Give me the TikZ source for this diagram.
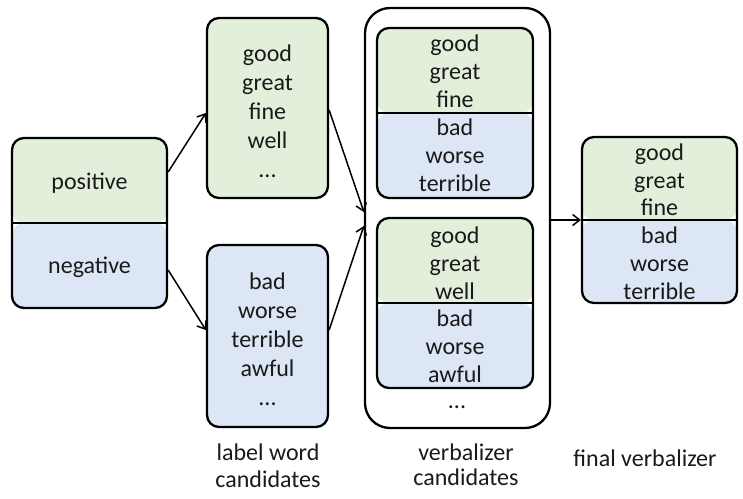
\documentclass[tikz,border=0pt]{standalone}
\usepackage{fontspec}
\setmainfont{Carlito}
\usetikzlibrary{arrows.meta}
\definecolor{gfill}{HTML}{E2EFDA}
\definecolor{bfill}{HTML}{DCE6F4}
\definecolor{ink}{HTML}{1A1A1A}
\tikzset{
  word/.style={text=ink, font=\fontsize{24}{29}\selectfont, align=center, inner sep=0pt},
  box/.style={draw=black, line width=2.3pt, rounded corners=12pt, inner sep=0pt},
  halves/.style={box,
    path picture={
      \fill[gfill] (path picture bounding box.north west) rectangle (path picture bounding box.east);
      \fill[bfill] (path picture bounding box.west) rectangle (path picture bounding box.south east);
      \draw[line width=2.3pt] (path picture bounding box.west) -- (path picture bounding box.east);
    }},
  arr/.style={line width=1.5pt, -{Straight Barb[length=7pt,width=11pt]}},
}
\begin{document}
\begin{tikzpicture}[x=1pt,y=-1pt]
\useasboundingbox (0,0) rectangle (743,498);
\fill[white] (0,0) rectangle (743,498);

% class labels
\node[halves, minimum width=155pt, minimum height=170pt] (cls) at (89.5,223) {};
\node[word] (pos) at (89.5,183) {positive};
\node[word] (neg) at (89.5,267) {negative};

% label word candidates
\node[box, fill=gfill, minimum width=121pt, minimum height=180pt] (lwpos) at (267.5,108) {};
\node[word] (lwpostxt) at (267.5,111) {good\\great\\fine\\well\\...};
\node[box, fill=bfill, minimum width=121pt, minimum height=182pt] (lwneg) at (267.5,336) {};
\node[word] (lwnegtxt) at (267.5,339) {bad\\worse\\terrible\\awful\\...};

% verbalizer candidates
\node[box, rounded corners=25pt, minimum width=185pt, minimum height=420pt] (verb) at (457.5,218) {};
\node[halves, minimum width=156pt, minimum height=170pt] (vone) at (455,113) {};
\node[word, font=\fontsize{24}{28}\selectfont] (vonepos) at (455,71) {good\\great\\fine};
\node[word, font=\fontsize{24}{28}\selectfont] (voneneg) at (455,155) {bad\\worse\\terrible};
\node[halves, minimum width=156pt, minimum height=170pt] (vtwo) at (455,303) {};
\node[word, font=\fontsize{24}{28}\selectfont] (vtwopos) at (455,263) {good\\great\\well};
\node[word, font=\fontsize{24}{28}\selectfont] (vtwoneg) at (455,346) {bad\\worse\\awful};
\node[word] (vdots) at (457,407) {...};

% final verbalizer
\node[halves, minimum width=155pt, minimum height=166pt] (final) at (659.5,220) {};
\node[word, font=\fontsize{24}{27.5}\selectfont] (finpos) at (659.5,180) {good\\great\\fine};
\node[word, font=\fontsize{24}{28}\selectfont] (finneg) at (659.5,263) {bad\\worse\\terrible};

% captions
\node[word, font=\fontsize{24}{27}\selectfont] (caplw) at (268,466) {label word\\candidates};
\node[word, font=\fontsize{24}{25}\selectfont] (capvc) at (466,465) {verbalizer\\candidates};
\node[word] (capfv) at (645,458) {final verbalizer};

% connectors
\draw[arr] ([yshift=51pt]cls.east) -- ([yshift=-5pt]lwpos.west);
\draw[arr] ([yshift=-47pt]cls.east) -- ([yshift=6pt]lwneg.west);
\draw[arr] ([yshift=-2pt]lwpos.east) -- ([yshift=6pt]verb.west);
\draw[arr] ([yshift=6pt]lwneg.east) -- ([yshift=-8pt]verb.west);
\draw[arr] ([yshift=-2pt]verb.east) -- (final.west);
\end{tikzpicture}
\end{document}
